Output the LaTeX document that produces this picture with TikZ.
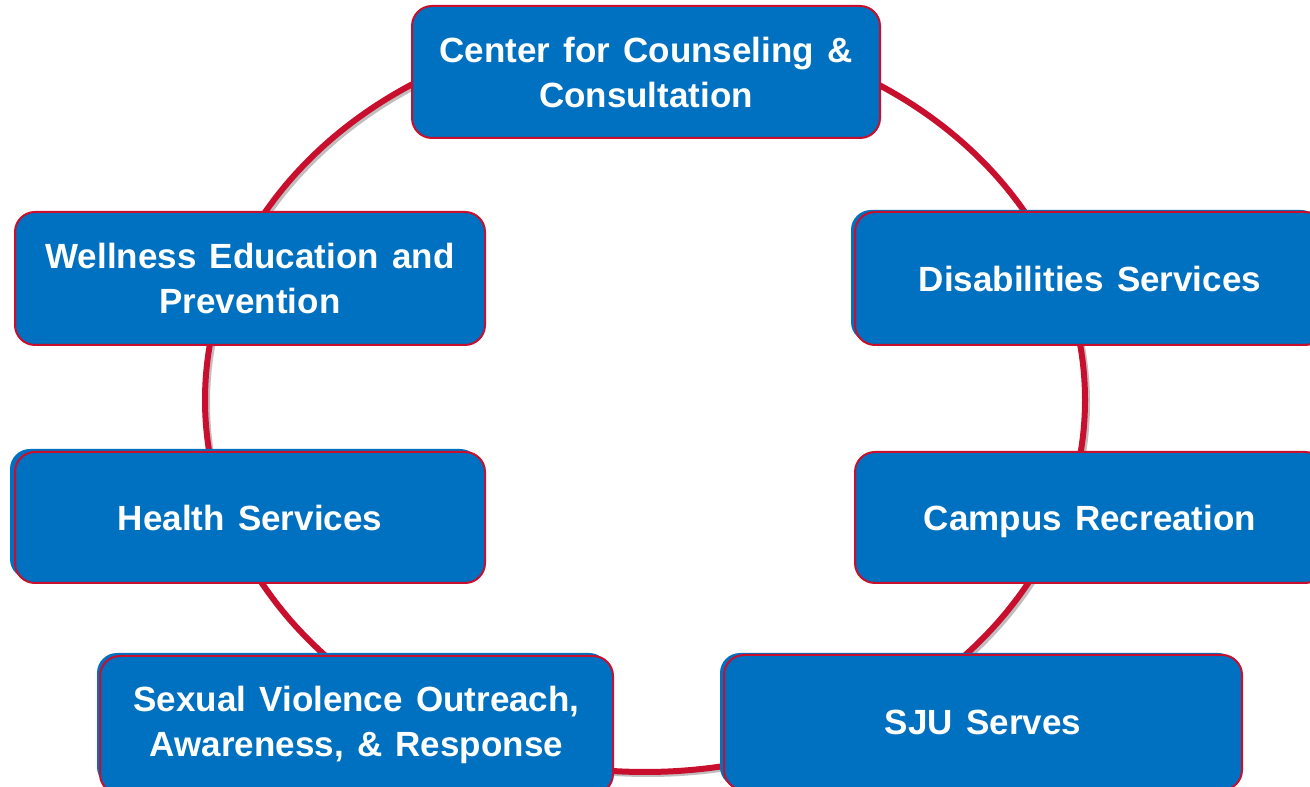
\documentclass[tikz,border=0pt]{standalone}
\usepackage{fontspec}
\setmainfont{Liberation Sans}
\definecolor{sjublue}{RGB}{0,112,192}
\definecolor{sjured}{RGB}{200,16,46}
\newcommand\officefont{\fontsize{17.5bp}{22.5bp}\selectfont\bfseries\spaceskip=0.38em\relax}
\tikzset{
  office/.style={draw=sjured,line width=1bp,fill=sjublue,rounded corners=10bp,
    text=white,align=center,inner sep=0pt,font=\officefont},
  officeback/.style={fill=sjublue,rounded corners=10bp,inner sep=0pt},
  ring/.style={draw=sjured,line width=3bp},
}
\begin{document}
\begin{tikzpicture}[line join=round,]
    %%
    \useasboundingbox (0bp,0bp) rectangle (655bp,393.5bp);
    \coordinate (hub) at (322.5bp,193.5bp);
    \draw [black!25,line width=2bp] ([shift={(1.5bp,-1.5bp)}]hub) ellipse [x radius=220bp,y radius=186bp];
    \draw [ring] (hub) ellipse [x radius=220bp,y radius=186bp];
    %%
    \node (disback) at (543.0bp,255.5bp) [officeback,minimum width=235bp,minimum height=66bp] {};
    \node (healthback) at (122.5bp,136.5bp) [officeback,minimum width=235bp,minimum height=65bp] {};
    \node (svoarback) at (176.5bp,33.5bp) [officeback,minimum width=256bp,minimum height=67bp] {};
    \node (sjuback) at (489.5bp,33.5bp) [officeback,minimum width=259bp,minimum height=67bp] {};
    %%
    \node (ccc) at (323.0bp,357.5bp) [office,minimum width=234bp,minimum height=66bp] {Center for Counseling \&\\Consultation};
    \node (wellness) at (125.0bp,254.25bp) [office,minimum width=235bp,minimum height=66.5bp] {Wellness Education and\\Prevention};
    \node (dis) at (545.0bp,254.25bp) [office,minimum width=235bp,minimum height=66.5bp] {Disabilities Services};
    \node (health) at (125.0bp,134.75bp) [office,minimum width=235bp,minimum height=65.5bp] {Health Services};
    \node (rec) at (545.0bp,134.75bp) [office,text depth=0bp,minimum width=235bp,minimum height=65.5bp] {Campus Recreation};
    \node (svoar) at (178.25bp,31.0bp) [office,minimum width=256.5bp,minimum height=69bp] {Sexual Violence Outreach,\\Awareness, \& Response};
    \node (sju) at (491.5bp,32.25bp) [office,minimum width=259bp,minimum height=67.5bp] {SJU Serves};
    %
\end{tikzpicture}
\end{document}
